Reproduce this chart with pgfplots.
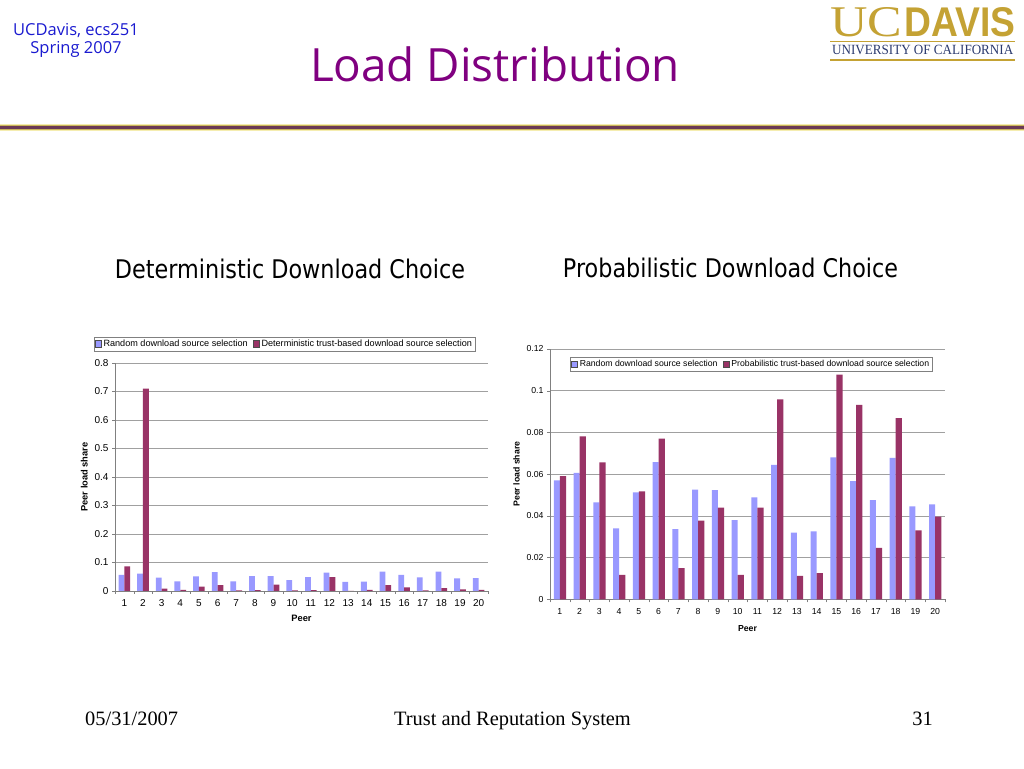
\documentclass[border=0pt]{standalone}
\usepackage{fontspec}
\setmainfont{Liberation Sans}
\newfontfamily\serif{Liberation Serif}
\newfontfamily\comic{Open Sans}
\newfontfamily\tah{DejaVu Sans}
\usepackage{pgfplots}
\pgfplotsset{compat=1.18}
\definecolor{exblue}{HTML}{9999FF}
\definecolor{exred}{HTML}{993366}
\definecolor{titlepurple}{HTML}{800080}
\definecolor{ucblue}{HTML}{1A1AD0}
\definecolor{ucgold}{HTML}{C4A234}
\definecolor{ucnavy}{HTML}{2B3A6E}
\definecolor{linepale}{HTML}{F5EDB0}
\definecolor{linegold}{HTML}{C8B45A}
\definecolor{linepurple}{HTML}{6B3A55}
\definecolor{gridgray}{HTML}{A0A0A0}

\pgfplotstableread{
peer rand det prob
1  0.0570 0.086 0.0591
2  0.0606 0.710 0.0781
3  0.0465 0.008 0.0657
4  0.0340 0.004 0.0117
5  0.0513 0.015 0.0518
6  0.0658 0.021 0.0770
7  0.0337 0.002 0.0149
8  0.0526 0.003 0.0377
9  0.0523 0.022 0.0439
10 0.0380 0.002 0.0117
11 0.0489 0.003 0.0439
12 0.0644 0.049 0.0959
13 0.0320 0.000 0.0112
14 0.0326 0.004 0.0126
15 0.0681 0.021 0.1077
16 0.0566 0.013 0.0932
17 0.0475 0.002 0.0246
18 0.0678 0.010 0.0869
19 0.0446 0.006 0.0331
20 0.0455 0.004 0.0396
}\loaddata

\pgfplotsset{
  excel/.style={
    scale only axis,
    ybar=0pt, bar width=0.31,
    xmin=0.5, xmax=20.5, ymin=0,
    xtick={1,...,20},
    minor xtick={0.5,1.5,...,20.5},
    axis lines*=left,
    axis line style={gray},
    major x tick style={draw=none},
    minor x tick style={gray},
    ytick style={gray},
    tick align=outside,
    major tick length=3pt, minor tick length=3pt,
    ymajorgrids, grid style={gridgray, line width=0.5pt},
    yticklabel style={/pgf/number format/fixed, /pgf/number format/precision=2},
    /pgf/number format/assume math mode=true,
    xlabel={\bfseries Peer},
    ylabel={\bfseries Peer load share},
    legend columns=2,
    legend cell align=left,
    legend image code/.code={\path[##1, draw=black!70, line width=0.3pt] (0pt,-3.2pt) rectangle (6.5pt,3.2pt);},
  }
}

\begin{document}
\begin{tikzpicture}[x=1pt,y=1pt]
\path[use as bounding box, fill=white] (0,0) rectangle (1024,768);

% header band
\fill[linepale] (0,637) rectangle (1024,644);
\fill[linegold] (0,641.7) rectangle (1024,643);
\fill[linepurple] (0,639) rectangle (1024,641.7);
\fill[linegold] (0,637.7) rectangle (1024,639);

% corner text
\node[ucblue, font=\comic\fontsize{16.5}{16.5}\selectfont, align=center, anchor=north, inner sep=0pt] at (76,745) {UCDavis, ecs251\\[2pt]Spring 2007};

% title
\node[titlepurple, anchor=base] at (495,686) {\resizebox{370pt}{!}{\comic Load Distribution}};

% logo
\node[ucgold, anchor=base west, inner sep=0pt] at (830,731) {\resizebox{72pt}{29pt}{\serif UC}};
\node[ucgold, anchor=base west, inner sep=0pt] at (904,731) {\resizebox{111pt}{29pt}{\bfseries DAVIS}};
\fill[ucgold] (830,726) rectangle (1015,727.3);
\node[ucnavy, anchor=base west, inner sep=0pt] at (832,713) {\resizebox{181pt}{9.3pt}{\serif UNIVERSITY OF CALIFORNIA}};
\fill[ucgold] (830,707.3) rectangle (1015,708.5);

% subtitles
\node[anchor=base, inner sep=0pt] at (290,489.7) {\resizebox{350pt}{19.5pt}{\tah Deterministic Download Choice}};
\node[anchor=base, inner sep=0pt] at (730.5,490) {\resizebox{335pt}{19.5pt}{\tah Probabilistic Download Choice}};

% footer
\node[anchor=base west, inner sep=0pt, font=\serif\fontsize{20.4}{20.4}\selectfont] at (85,43) {05/31/2007};
\node[anchor=base, inner sep=0pt, font=\serif\fontsize{20.4}{20.4}\selectfont] at (512.5,43) {Trust and Reputation System};
\node[anchor=base east, inner sep=0pt, font=\serif\fontsize{20.4}{20.4}\selectfont] at (933,43) {31};

% chart 1
\begin{axis}[excel,
  at={(115pt,177pt)}, anchor=south west,
  width=373pt, height=228pt,
  ymax=0.8,
  ytick={0,0.1,0.2,0.3,0.4,0.5,0.6,0.7,0.8},
  tick label style={font=\fontsize{10}{10}\selectfont},
  xticklabel style={yshift=-2pt},
  label style={font=\fontsize{9.3}{9.3}\selectfont},
  xlabel style={yshift=-2pt},
  legend style={at={(0.454,1)}, anchor=south, yshift=12pt, draw=gray, line width=0.4pt,
    font=\fontsize{9.1}{9.1}\selectfont, inner sep=1pt,
    /tikz/every even column/.append style={column sep=3pt}},
]
\addplot[fill=exblue, draw=none] table[x=peer, y=rand] {\loaddata};
\addplot[fill=exred, draw=none] table[x=peer, y=det] {\loaddata};
\legend{Random download source selection, Deterministic trust-based download source selection}
\end{axis}

% chart 2
\begin{axis}[excel,
  at={(550pt,168.7pt)}, anchor=south west,
  width=395pt, height=250.3pt,
  ymax=0.12,
  ytick={0,0.02,0.04,0.06,0.08,0.1,0.12},
  tick label style={font=\fontsize{8.7}{8.7}\selectfont},
  xticklabel style={yshift=-3pt},
  label style={font=\fontsize{8.7}{8.7}\selectfont},
  xlabel style={yshift=-4pt},
  legend style={at={(0.509,0.968)}, anchor=north, draw=gray, line width=0.4pt,
    font=\fontsize{8.7}{8.7}\selectfont, inner sep=1pt,
    /tikz/every even column/.append style={column sep=3pt}},
]
\addplot[fill=exblue, draw=none] table[x=peer, y=rand] {\loaddata};
\addplot[fill=exred, draw=none] table[x=peer, y=prob] {\loaddata};
\legend{Random download source selection, Probabilistic trust-based download source selection}
\end{axis}
\end{tikzpicture}
\end{document}
